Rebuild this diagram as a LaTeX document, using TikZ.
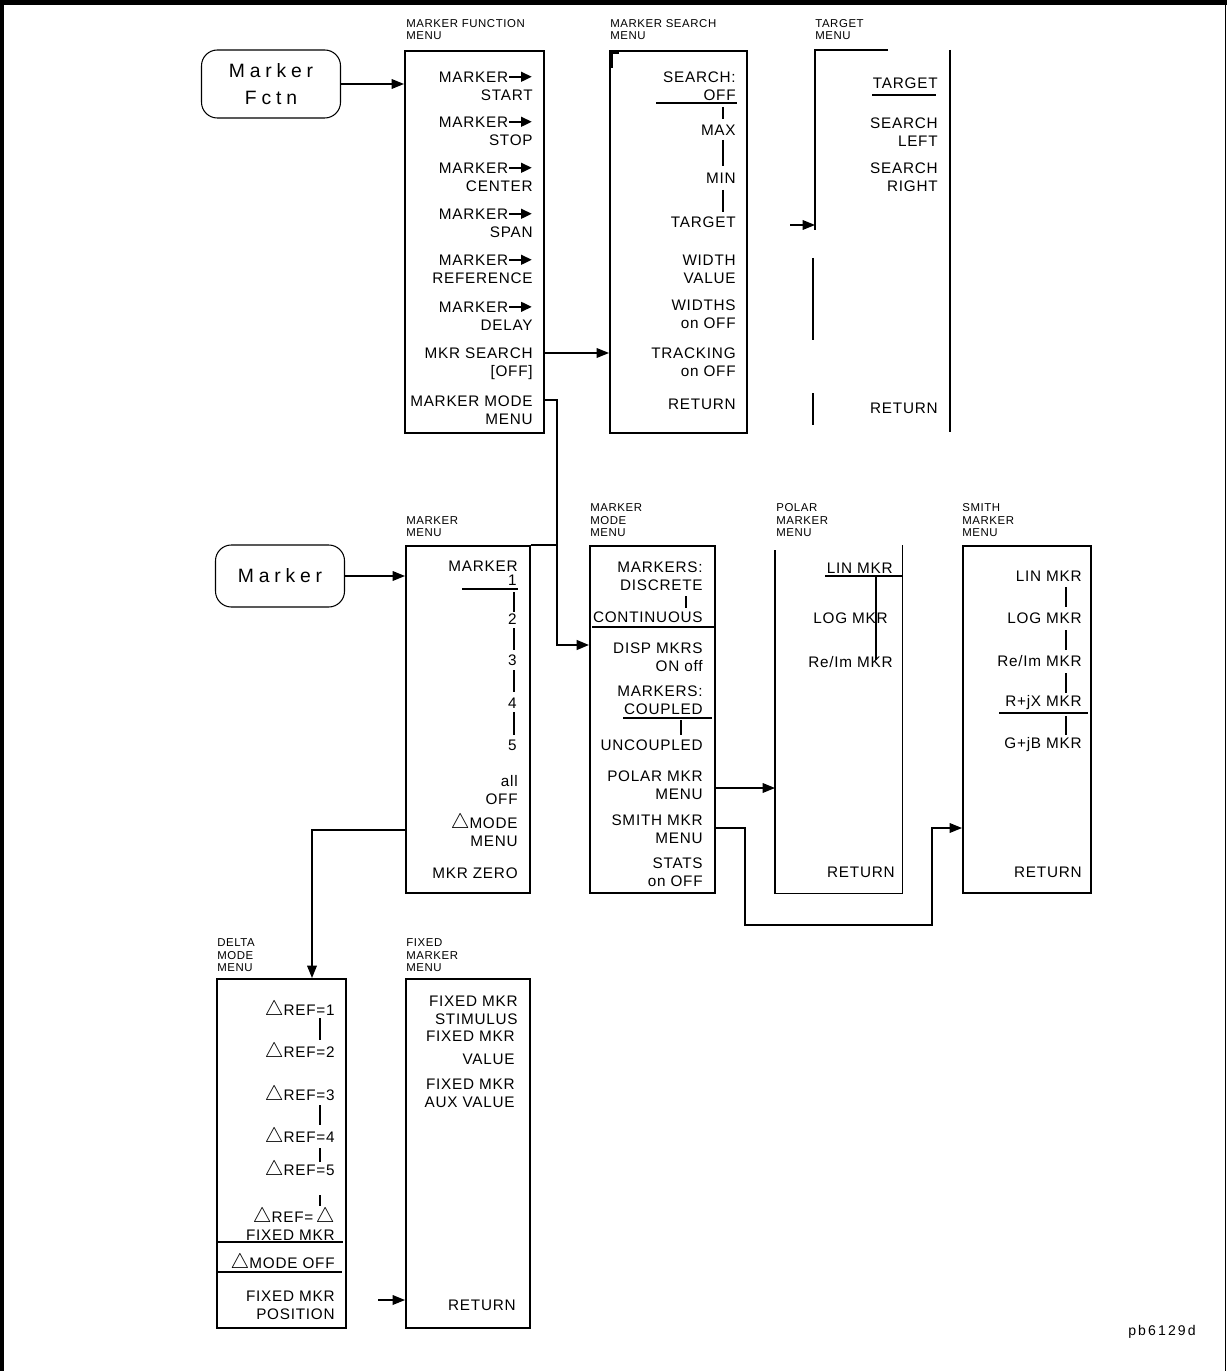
\documentclass[tikz,border=0pt]{standalone}
\usepackage{fontspec}
\setmainfont[LetterSpace=5]{Liberation Sans}
\usetikzlibrary{arrows.meta}

\newcommand\mkto{\tikz[x=1pt,y=1pt,baseline=-3.1pt]\draw[line width=1pt,-{Triangle[length=6pt,width=5.5pt]}] (0,0) -- (13,0);}
\newcommand\dtri{{\fontsize{12.5}{12}\selectfont$\bigtriangleup$}}

\tikzset{
  menu/.style 2 args={draw,line width=0.9pt,anchor=north west,inner sep=0pt,
    minimum width=#1*0.02cm,minimum height=#2*0.02cm},
  ttl/.style={anchor=south west,align=left,inner sep=0pt,font=\fontsize{6.5}{7.1}\selectfont},
  item/.style={anchor=east,align=right,inner sep=0pt,font=\fontsize{8.7}{10.2}\selectfont},
  key/.style={draw,line width=0.6pt,rounded corners=9pt,align=center,inner sep=0pt,
    font=\fontsize{11}{15}\selectfont\addfontfeature{LetterSpace=25}},
  arr/.style={line width=0.7pt,-{Triangle[length=7pt,width=5.5pt]}},
  bar/.style={line width=0.8pt},
}

\begin{document}
\begin{tikzpicture}[x=0.02cm,y=-0.02cm]
  \useasboundingbox (0,0) rectangle (1227,1371);
  % frame
  \draw[line width=3pt] (1.5,1371) -- (1.5,2.5) -- (1227,2.5);
  \draw[line width=1pt] (1225.5,0) -- (1225.5,1371);

  % front panel keys
  \node[key,minimum width=139*0.02cm,minimum height=68*0.02cm] (fctn) at (271,84) {Marker\\Fctn};
  \node[key,minimum width=129*0.02cm,minimum height=62*0.02cm] (mkey) at (280,576) {Marker};

  % menu boxes
  \node[menu={139}{382}] (mfm) at (404,50) {};
  \node[menu={137}{382}] (msm) at (609,50) {};
  \node[menu={124}{347}] (mm) at (405,545) {};
  \node[menu={125}{347}] (mmm) at (589,545) {};
  \node[menu={126}{347},draw=none] (pmm) at (775,545) {};
  \node[menu={128}{347}] (smm) at (962,545) {};
  \node[menu={129}{349}] (dmm) at (216,978) {};
  \node[menu={124}{349}] (fmm) at (405,978) {};
  \draw[line width=0.9pt] (pmm.north west) ++(0,5) -- (pmm.south west) -- (pmm.south east) -- (pmm.north east);
  % target menu, open box
  \coordinate (tgm) at (815,50);
  \draw[line width=0.9pt] (888,50) -- (tgm) -- (815,230);
  \draw[line width=1.4pt] (813,258) -- (813,340);
  \draw[line width=0.9pt] (813,393) -- (813,425);
  \draw[line width=0.9pt] (950,50) -- (950,432);
  \draw[line width=1.6pt] (612,68) -- (612,53) -- (619,53);

  % titles
  \node[ttl] (t1) at (406,40) {MARKER FUNCTION\\MENU};
  \node[ttl] (t2) at (610,40) {MARKER SEARCH\\MENU};
  \node[ttl] (t3) at (815,40) {TARGET\\MENU};
  \node[ttl] (t4) at (406,537) {MARKER\\MENU};
  \node[ttl] (t5) at (590,537) {MARKER\\MODE\\MENU};
  \node[ttl] (t6) at (776,537) {POLAR\\MARKER\\MENU};
  \node[ttl] (t7) at (962,537) {SMITH\\MARKER\\MENU};
  \node[ttl] (t8) at (217,972) {DELTA\\MODE\\MENU};
  \node[ttl] (t9) at (406,972) {FIXED\\MARKER\\MENU};

  % marker function items
  \foreach \y/\t [count=\i] in {86/{MARKER\mkto\\START}, 131/{MARKER\mkto\\STOP},
      177/{MARKER\mkto\\CENTER}, 223/{MARKER\mkto\\SPAN}, 269/{MARKER\mkto\\REFERENCE},
      316/{MARKER\mkto\\DELAY}, 364/{MKR SEARCH\\{[OFF]}}, 410/{MARKER MODE\\MENU}}
    \node[item] (mf\i) at (533,\y) {\t};

  % marker search items
  \foreach \y/\t [count=\i] in {86/{SEARCH:\\OFF}, 130/MAX, 178/MIN, 222/TARGET,
      269/{WIDTH\\VALUE}, 314/{WIDTHS\\on OFF}, 362/{TRACKING\\on OFF}, 404/RETURN}
    \node[item] (ms\i) at (736,\y) {\t};
  \draw[bar] (656,103) -- (737,103);
  \foreach \a/\b in {107/119, 140/166, 190/212} \draw[bar] (723,\a) -- (723,\b);

  % target items
  \foreach \y/\t [count=\i] in {83/TARGET, 132/{SEARCH\\LEFT}, 177/{SEARCH\\RIGHT}, 408/RETURN}
    \node[item] (tg\i) at (938,\y) {\t};
  \draw[bar] (872,95) -- (936,95);

  % marker items
  \node[item] (mk0) at (518,566) {MARKER};
  \foreach \y/\t [count=\i] in {580/1, 619/2, 660/3, 703/4, 745/5}
    \node[item] (mk\i) at (517,\y) {\t};
  \foreach \a/\b in {592/612, 628/650, 670/692, 712/735} \draw[bar] (514,\a) -- (514,\b);
  \draw[bar] (462,589) -- (518,589);
  \node[item] (mk6) at (518,790) {all\\OFF};
  \node[item] (mk7) at (518,830) {\dtri MODE\\MENU};
  \node[item] (mk8) at (518,873) {MKR ZERO};

  % marker mode items
  \foreach \y/\t [count=\i] in {576/{MARKERS:\\DISCRETE}, 617/CONTINUOUS, 657/{DISP MKRS\\ON off},
      700/{MARKERS:\\COUPLED}, 745/UNCOUPLED, 785/{POLAR MKR\\MENU}, 829/{SMITH MKR\\MENU},
      872/{STATS\\on OFF}}
    \node[item] (md\i) at (703,\y) {\t};
  \draw[bar] (686,596) -- (686,608);
  \draw[bar] (592,627) -- (716,627);
  \draw[bar] (623,718) -- (712,718);
  \draw[bar] (681,720) -- (681,735);

  % polar items
  \node[item] (pl1) at (893,568) {LIN MKR};
  \node[item] (pl2) at (888,618) {LOG MKR};
  \node[item] (pl3) at (893,662) {Re/Im MKR};
  \node[item] (pl4) at (895,872) {RETURN};
  \draw[bar] (825,576) -- (903,576);
  \draw[bar] (876,576) -- (876,660);

  % smith items
  \foreach \y/\t [count=\i] in {576/{LIN MKR}, 618/{LOG MKR}, 661/{Re/Im MKR}, 703/{R+jX MKR},
      745/{G+jB MKR}, 872/RETURN}
    \node[item] (sm\i) at (1082,\y) {\t};
  \foreach \a/\b in {587/607, 630/650, 673/693, 716/735} \draw[bar] (1066,\a) -- (1066,\b);
  \draw[bar] (999,713) -- (1088,713);

  % delta mode items
  \foreach \y/\t [count=\i] in {1010/1, 1052/2, 1095/3, 1137/4, 1170/5}
    \node[item] (dl\i) at (335,\y) {\dtri REF=\t};
  \node[item] (dl6) at (335,1224) {\dtri REF=\,\dtri\\FIXED MKR};
  \node[item] (dl7) at (335,1263) {\dtri MODE OFF};
  \node[item] (dl8) at (335,1305) {FIXED MKR\\POSITION};
  \foreach \a/\b in {1018/1040, 1105/1125, 1148/1162, 1195/1206} \draw[bar] (320,\a) -- (320,\b);
  \draw[bar] (216,1242) -- (343,1242);
  \draw[bar] (216,1272) -- (342,1272);

  % fixed marker items
  \node[item] (fx1) at (518,1010) {FIXED MKR\\STIMULUS};
  \node[item] (fx2) at (515,1048) {FIXED MKR\\[3pt]VALUE};
  \node[item] (fx3) at (515,1093) {FIXED MKR\\AUX VALUE};
  \node[item] (fx4) at (516,1305) {RETURN};

  % connectors
  \draw[arr] (fctn) -- (mfm.west |- fctn);
  \draw[arr] (mkey) -- (mm.west |- mkey);
  \draw[arr] (mfm.east |- 0,353) -- (msm.west |- 0,353);
  \draw[arr,line width=1.2pt] (mfm.east |- 0,400) -- (557,400) -- (557,645) -- (mmm.west |- 0,645);
  \draw[line width=0.9pt] (mm.north east) -- (557,545);
  \draw[arr] (mm.west |- 0,830) -| (dmm.north -| 312,0);
  \draw[arr] (mmm.east |- 0,788) -- (pmm.west |- 0,788);
  \draw[arr] (mmm.east |- 0,828) -- (745,828) -- (745,925) -- (932,925) -- (932,828) -- (smm.west |- 0,828);
  \coordinate (tin) at (790,225);
  \draw[arr] (tin) -- (tgm |- tin);
  \coordinate (fin) at (378,1300);
  \draw[arr] (fin) -- (fmm.west |- fin);

  \node[font=\fontsize{8}{9}\selectfont\addfontfeature{LetterSpace=15}] (code) at (1162,1332) {pb6129d};
\end{tikzpicture}
\end{document}
